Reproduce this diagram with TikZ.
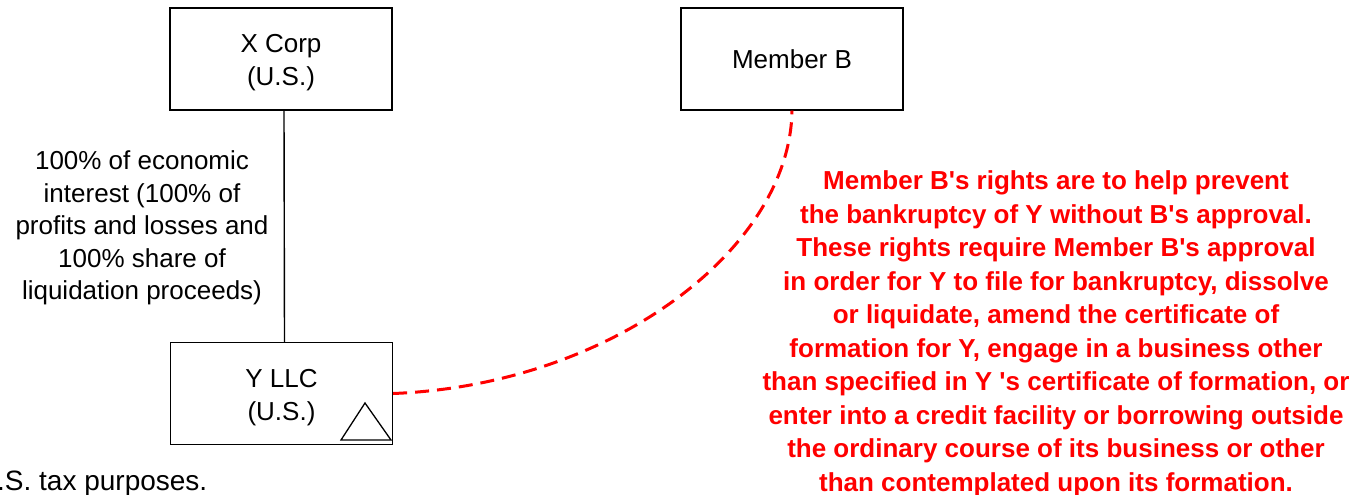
\documentclass[tikz,border=0pt]{standalone}
\usepackage{fontspec}
\setmainfont{Liberation Sans}[Ligatures=TeXOff]
\definecolor{bred}{RGB}{255,0,0}
\tikzset{
  entity/.style={draw=black, line width=1.3pt, fill=white, minimum width=222pt, minimum height=102pt, inner sep=0pt, align=center, font=\fontsize{26}{33}\selectfont},
  boxtext/.style={align=center, inner sep=0pt, yshift=-4pt, font=\fontsize{26}{33}\selectfont},
  lbl/.style={align=center, inner sep=0pt, font=\fontsize{26}{32.5}\selectfont},
  note/.style={align=center, inner sep=0pt, text=bred, font=\fontsize{26}{33.5}\selectfont\bfseries},
  rel/.style={draw=bred, line width=3pt, dash pattern=on 14pt off 8pt},
}
\begin{document}
\begin{tikzpicture}[x=1pt,y=-1pt]
\useasboundingbox (0,0) rectangle (1355,495);
\node[entity, label={[boxtext]center:X Corp\\(U.S.)}] (x) at (281,59) {};
\node[entity] (b) at (792,59) {Member B};
\node[entity, label={[boxtext]center:Y LLC\\(U.S.)}] (y) at (281.5,393.5) {};
\draw[line width=1.4pt] ([xshift=3pt]x.south) -- ([xshift=3pt]y.north);
\coordinate (t1) at (341,440);
\coordinate (t2) at (365,403);
\coordinate (t3) at (391,440);
\draw[line width=1.3pt, line join=miter] (t1) -- (t2) -- (t3) -- cycle;
\node[lbl] (pct) at (142,228) {100\% of economic\\interest (100\% of\\profits and losses and\\100\% share of\\liquidation proceeds)};
\node[anchor=base west, inner sep=0pt, font=\fontsize{28}{30}\selectfont] (tax) at (-3,490) {.S. tax purposes.};
\draw[rel] (y.east) .. controls (610,385) and (790,250) .. (b.south);
\node[note] (n) at (1056,334) {Member B's rights are to help prevent\\the bankruptcy of Y without B's approval.\\These rights require Member B's approval\\in order for Y to file for bankruptcy, dissolve\\or liquidate, amend the certificate of\\formation for Y, engage in a business other\\than specified in Y 's certificate of formation, or\\enter into a credit facility or borrowing outside\\the ordinary course of its business or other\\than contemplated upon its formation.};
\end{tikzpicture}
\end{document}
